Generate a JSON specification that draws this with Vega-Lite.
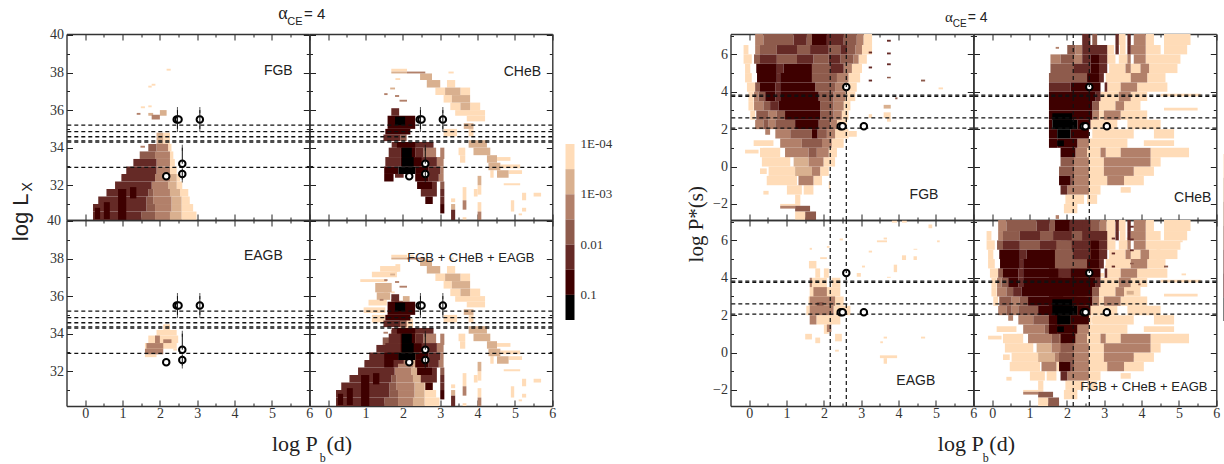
{"$schema":"https://vega.github.io/schema/vega-lite/v6.json","padding":{"left":9.5,"top":4,"right":0,"bottom":0},"columns":6,"spacing":0,"bounds":"flush","config":{"view":{"stroke":null},"axis":{"domainColor":"#333","domainWidth":1.4,"tickColor":"#222","tickWidth":1,"labelFont":"Liberation Serif","labelFontSize":14,"labelColor":"#333","grid":false,"zindex":1,"labelOverlap":false,"labelFlush":false},"axisX":{"labelPadding":6},"axisY":{"labelPadding":9},"text":{"font":"Liberation Sans","color":"#222"}},
"datasets":{
"one":[{"k":0}],
"hL":[{"y":35.2},{"y":34.85},{"y":34.58},{"y":34.36},{"y":34.3},{"y":32.95}],
"eL":[{"x":2.47,"lo":35,"hi":36},{"x":3.07,"lo":35,"hi":36},{"x":2.6,"lo":33.15,"hi":34},{"x":2.6,"lo":32.3,"hi":32.9}],
"cL":[{"x":2.47,"y":35},{"x":2.47,"y":36},{"x":3.07,"y":35},{"x":3.07,"y":36},{"x":2.6,"y":34},{"x":2.6,"y":32.3}],
"pL":[{"x":2.45,"y":35.5},{"x":2.5,"y":35.5},{"x":3.07,"y":35.5},{"x":2.6,"y":33.15},{"x":2.6,"y":32.6},{"x":2.17,"y":32.48}],
"hR":[{"y":3.75},{"y":3.82},{"y":2.6},{"y":2.05}],
"vR":[{"x":2.17},{"x":2.6}],
"pR":[{"x":2.6,"y":4.25},{"x":2.45,"y":2.15},{"x":2.5,"y":2.15},{"x":3.07,"y":2.15}],
"cb":[{"c":1,"lo":-4,"hi":-3.5,"t":"1E-04"},{"c":2,"lo":-3.5,"hi":-3,"t":""},{"c":3,"lo":-3,"hi":-2.5,"t":"1E-03"},{"c":4,"lo":-2.5,"hi":-2,"t":""},{"c":5,"lo":-2,"hi":-1.5,"t":"0.01"},{"c":6,"lo":-1.5,"hi":-1,"t":""},{"c":7,"lo":-1,"hi":-0.5,"t":"0.1"}],
"L":[
{"p":"a","x":0.21,"e":1.5,"y":30.15,"f":30.6,"c":5},{"p":"a","x":1.5,"e":1.87,"y":30.15,"f":30.6,"c":4},{"p":"a","x":1.87,"e":2.27,"y":30.15,"f":30.6,"c":3},{"p":"a","x":2.27,"e":2.58,"y":30.15,"f":30.6,"c":2},{"p":"a","x":2.58,"e":2.98,"y":30.15,"f":30.6,"c":1},
{"p":"a","x":0.21,"e":1.64,"y":30.6,"f":31,"c":5},{"p":"a","x":1.64,"e":1.87,"y":30.6,"f":31,"c":4},{"p":"a","x":1.87,"e":2.31,"y":30.6,"f":31,"c":3},{"p":"a","x":2.31,"e":2.58,"y":30.6,"f":31,"c":2},{"p":"a","x":2.58,"e":2.89,"y":30.6,"f":31,"c":1},
{"p":"a","x":0.35,"e":1.64,"y":31,"f":31.4,"c":5},{"p":"a","x":1.64,"e":1.82,"y":31,"f":31.4,"c":4},{"p":"a","x":1.82,"e":2.31,"y":31,"f":31.4,"c":3},{"p":"a","x":2.31,"e":2.58,"y":31,"f":31.4,"c":2},{"p":"a","x":2.58,"e":2.8,"y":31,"f":31.4,"c":1},
{"p":"a","x":0.57,"e":1.69,"y":31.4,"f":31.8,"c":5},{"p":"a","x":1.69,"e":1.82,"y":31.4,"f":31.8,"c":4},{"p":"a","x":1.82,"e":2.27,"y":31.4,"f":31.8,"c":3},{"p":"a","x":2.27,"e":2.54,"y":31.4,"f":31.8,"c":2},{"p":"a","x":2.54,"e":2.76,"y":31.4,"f":31.8,"c":1},
{"p":"a","x":0.8,"e":1.78,"y":31.8,"f":32.2,"c":5},{"p":"a","x":1.78,"e":2.22,"y":31.8,"f":32.2,"c":3},{"p":"a","x":2.22,"e":2.45,"y":31.8,"f":32.2,"c":2},{"p":"a","x":2.45,"e":2.6,"y":31.8,"f":32.2,"c":1},
{"p":"a","x":0.97,"e":1.87,"y":32.2,"f":32.6,"c":5},{"p":"a","x":1.87,"e":2.27,"y":32.2,"f":32.6,"c":3},{"p":"a","x":2.27,"e":2.45,"y":32.2,"f":32.6,"c":2},{"p":"a","x":2.45,"e":2.54,"y":32.2,"f":32.6,"c":1},
{"p":"a","x":1.1,"e":1.91,"y":32.6,"f":33,"c":5},{"p":"a","x":1.91,"e":2.27,"y":32.6,"f":33,"c":3},{"p":"a","x":2.27,"e":2.45,"y":32.6,"f":33,"c":1},
{"p":"a","x":1.29,"e":1.91,"y":33,"f":33.4,"c":5},{"p":"a","x":1.91,"e":2.27,"y":33,"f":33.4,"c":3},{"p":"a","x":2.27,"e":2.4,"y":33,"f":33.4,"c":1},
{"p":"a","x":1.46,"e":1.87,"y":33.4,"f":33.8,"c":4},{"p":"a","x":1.87,"e":2.27,"y":33.4,"f":33.8,"c":3},{"p":"a","x":2.27,"e":2.36,"y":33.4,"f":33.8,"c":1},
{"p":"a","x":1.69,"e":1.91,"y":33.8,"f":34.2,"c":4},{"p":"a","x":1.91,"e":2.22,"y":33.8,"f":34.2,"c":3},{"p":"a","x":2.22,"e":2.31,"y":33.8,"f":34.2,"c":1},
{"p":"a","x":1.91,"e":2.09,"y":34.2,"f":34.8,"c":2},{"p":"a","x":2.09,"e":2.27,"y":34.2,"f":34.8,"c":1},
{"p":"a","x":0.88,"e":1.1,"y":30.15,"f":31.8,"c":6},{"p":"a","x":1.2,"e":1.37,"y":31.3,"f":31.9,"c":6},{"p":"a","x":0.5,"e":0.66,"y":30.2,"f":31.1,"c":6},{"p":"a","x":0.26,"e":0.4,"y":30.2,"f":30.8,"c":6},
{"p":"a","x":1.78,"e":2,"y":35.5,"f":35.75,"c":3},{"p":"a","x":2,"e":2.18,"y":35.7,"f":36,"c":2},{"p":"a","x":1.69,"e":1.82,"y":35.7,"f":35.85,"c":2},{"p":"a","x":1.38,"e":1.48,"y":35.75,"f":35.85,"c":3},{"p":"a","x":1.69,"e":1.78,"y":36.15,"f":36.25,"c":1},{"p":"a","x":1.49,"e":1.6,"y":36.1,"f":36.2,"c":1},{"p":"a","x":1.69,"e":1.78,"y":37.2,"f":37.3,"c":1},{"p":"a","x":1.78,"e":1.88,"y":37.3,"f":37.4,"c":1},{"p":"a","x":2.18,"e":2.29,"y":38.1,"f":38.2,"c":1},{"p":"a","x":1.48,"e":1.6,"y":34,"f":34.1,"c":3},
{"p":"b","x":1.69,"e":1.9,"y":35.7,"f":36.1,"c":5},{"p":"b","x":1.59,"e":2.33,"y":35,"f":35.7,"c":6},{"p":"b","x":1.79,"e":2.06,"y":35.2,"f":35.65,"c":7},{"p":"b","x":1.53,"e":2.2,"y":34.7,"f":35,"c":6},{"p":"b","x":1.48,"e":1.93,"y":34.35,"f":34.7,"c":5},{"p":"b","x":1.93,"e":2.1,"y":34.35,"f":34.7,"c":4},
{"p":"b","x":1.7,"e":2.82,"y":34,"f":34.3,"c":5},{"p":"b","x":1.84,"e":2.33,"y":34,"f":34.3,"c":6},
{"p":"b","x":1.62,"e":1.93,"y":33.5,"f":34,"c":5},{"p":"b","x":1.93,"e":2.33,"y":33.5,"f":34,"c":6},{"p":"b","x":1.97,"e":2.24,"y":33.5,"f":34,"c":7},{"p":"b","x":2.33,"e":2.55,"y":33.5,"f":34,"c":5},{"p":"b","x":2.55,"e":2.89,"y":33.5,"f":34,"c":3},
{"p":"b","x":1.53,"e":1.93,"y":33,"f":33.5,"c":5},{"p":"b","x":1.93,"e":2.51,"y":33,"f":33.5,"c":6},{"p":"b","x":1.97,"e":2.29,"y":33,"f":33.5,"c":7},{"p":"b","x":2.51,"e":2.91,"y":33,"f":33.5,"c":5},{"p":"b","x":2.91,"e":3.09,"y":33,"f":33.5,"c":3},
{"p":"b","x":1.5,"e":1.88,"y":32.6,"f":33,"c":6},{"p":"b","x":1.88,"e":2.33,"y":32.6,"f":33,"c":7},{"p":"b","x":2.33,"e":2.69,"y":32.6,"f":33,"c":6},{"p":"b","x":2.69,"e":3,"y":32.6,"f":33,"c":5},{"p":"b","x":3,"e":3.09,"y":32.6,"f":33,"c":3},
{"p":"b","x":1.5,"e":1.75,"y":32.2,"f":32.6,"c":6},{"p":"b","x":1.79,"e":2.02,"y":32.4,"f":32.6,"c":5},{"p":"b","x":2.33,"e":2.69,"y":32.2,"f":32.6,"c":6},{"p":"b","x":2.69,"e":2.96,"y":32.2,"f":32.6,"c":5},{"p":"b","x":2.96,"e":3.09,"y":32.2,"f":32.6,"c":3},
{"p":"b","x":2.38,"e":2.78,"y":31.8,"f":32.2,"c":6},{"p":"b","x":2.78,"e":2.91,"y":31.8,"f":32.2,"c":5},{"p":"b","x":3,"e":3.11,"y":31.8,"f":32.2,"c":4},
{"p":"b","x":2.48,"e":2.91,"y":31.4,"f":31.8,"c":5},{"p":"b","x":3,"e":3.11,"y":31.4,"f":31.8,"c":5},{"p":"b","x":2.6,"e":2.8,"y":31,"f":31.4,"c":6},{"p":"b","x":3,"e":3.11,"y":31,"f":31.4,"c":5},{"p":"b","x":3,"e":3.11,"y":30.5,"f":31,"c":6},
{"p":"b","x":3.29,"e":3.4,"y":30.15,"f":30.7,"c":5},{"p":"b","x":3.29,"e":3.4,"y":30.7,"f":31,"c":2},{"p":"b","x":3.29,"e":3.4,"y":31.1,"f":31.3,"c":1},{"p":"b","x":3.6,"e":3.7,"y":30.7,"f":31.2,"c":3},{"p":"b","x":3.6,"e":3.7,"y":31.2,"f":31.9,"c":1},{"p":"b","x":3.6,"e":3.7,"y":30.15,"f":30.3,"c":1},{"p":"b","x":3.9,"e":4,"y":31.4,"f":31.8,"c":1},
{"p":"b","x":4,"e":4.1,"y":30.15,"f":30.6,"c":3},{"p":"b","x":4,"e":4.1,"y":30.6,"f":31.1,"c":1},{"p":"b","x":4,"e":4.1,"y":31.5,"f":32,"c":1},{"p":"b","x":4,"e":4.1,"y":32,"f":32.5,"c":2},{"p":"b","x":4.89,"e":4.98,"y":30.6,"f":31.2,"c":1},{"p":"b","x":5.19,"e":5.3,"y":30.6,"f":30.8,"c":1},{"p":"b","x":5.19,"e":5.3,"y":31.2,"f":31.6,"c":1},{"p":"b","x":5.5,"e":5.7,"y":31.4,"f":31.6,"c":1},{"p":"b","x":5.1,"e":5.19,"y":30.4,"f":30.5,"c":1},
{"p":"b","x":1.69,"e":2.11,"y":38.05,"f":38.2,"c":1},{"p":"b","x":1.69,"e":2.11,"y":37.95,"f":38.05,"c":2},{"p":"b","x":2.11,"e":2.6,"y":37.95,"f":38.05,"c":3},{"p":"b","x":2.46,"e":2.78,"y":37.6,"f":37.95,"c":2},{"p":"b","x":2.64,"e":3,"y":37.2,"f":37.6,"c":2},{"p":"b","x":3.18,"e":3.4,"y":37.2,"f":37.6,"c":1},
{"p":"b","x":2.87,"e":3.13,"y":36.8,"f":37.2,"c":1},{"p":"b","x":3.13,"e":3.54,"y":36.8,"f":37.2,"c":2},{"p":"b","x":3.54,"e":3.8,"y":36.8,"f":37.2,"c":1},{"p":"b","x":3.09,"e":3.31,"y":36.4,"f":36.8,"c":1},{"p":"b","x":3.31,"e":3.8,"y":36.4,"f":36.8,"c":2},{"p":"b","x":3.27,"e":3.54,"y":36,"f":36.4,"c":1},{"p":"b","x":3.54,"e":3.8,"y":36,"f":36.4,"c":2},{"p":"b","x":3.8,"e":4.07,"y":36,"f":36.4,"c":1},{"p":"b","x":3.4,"e":4.2,"y":35.7,"f":36,"c":1},{"p":"b","x":3.71,"e":4.2,"y":35.4,"f":35.7,"c":1},{"p":"b","x":3.63,"e":3.89,"y":35,"f":35.3,"c":2},{"p":"b","x":3.09,"e":3.45,"y":34.6,"f":35,"c":1},{"p":"b","x":3.76,"e":3.89,"y":34.6,"f":35,"c":1},{"p":"b","x":3.76,"e":4.25,"y":34,"f":34.4,"c":2},{"p":"b","x":3.49,"e":3.67,"y":33.6,"f":34,"c":1},{"p":"b","x":3.89,"e":4.34,"y":33.6,"f":34,"c":2},{"p":"b","x":3,"e":3.11,"y":33.4,"f":34,"c":3},{"p":"b","x":3.53,"e":3.67,"y":33.2,"f":33.6,"c":1},{"p":"b","x":4.25,"e":4.52,"y":33.2,"f":33.6,"c":2},{"p":"b","x":4.52,"e":4.88,"y":33.3,"f":33.5,"c":1},{"p":"b","x":4.29,"e":4.61,"y":32.8,"f":33.2,"c":2},{"p":"b","x":4.61,"e":5.14,"y":32.9,"f":33.1,"c":1},{"p":"b","x":4.34,"e":4.43,"y":32.4,"f":32.8,"c":1},{"p":"b","x":4.52,"e":4.83,"y":32.4,"f":32.8,"c":2},{"p":"b","x":4.83,"e":5.19,"y":32.6,"f":32.8,"c":1},{"p":"b","x":4.7,"e":5.14,"y":32,"f":32.1,"c":1},
{"p":"b","x":1.79,"e":1.9,"y":36.7,"f":36.8,"c":3},{"p":"b","x":1.91,"e":2.11,"y":36.45,"f":36.55,"c":3},{"p":"b","x":1.66,"e":1.79,"y":37.1,"f":37.2,"c":2},{"p":"b","x":1.8,"e":1.93,"y":37.6,"f":37.7,"c":1},{"p":"b","x":1.5,"e":1.59,"y":36.8,"f":36.9,"c":3},{"p":"b","x":3.22,"e":3.36,"y":37.95,"f":38.05,"c":1},
{"p":"c","x":2.09,"e":2.27,"y":34.2,"f":34.5,"c":1},{"p":"c","x":1.91,"e":2.45,"y":33.9,"f":34.2,"c":1},{"p":"c","x":1.69,"e":2.49,"y":33.5,"f":33.9,"c":1},{"p":"c","x":1.87,"e":2,"y":33.5,"f":33.9,"c":3},{"p":"c","x":2.09,"e":2.31,"y":33.5,"f":33.7,"c":3},{"p":"c","x":1.6,"e":2.45,"y":33.2,"f":33.5,"c":1},{"p":"c","x":1.64,"e":2.09,"y":33.2,"f":33.5,"c":3},{"p":"c","x":1.6,"e":2.09,"y":32.9,"f":33.2,"c":3},{"p":"c","x":1.6,"e":1.91,"y":32.75,"f":32.9,"c":1},{"p":"c","x":2.36,"e":2.46,"y":33.1,"f":33.2,"c":1},
{"p":"d","x":1.39,"e":1.93,"y":37.3,"f":37.6,"c":1},{"p":"d","x":1.17,"e":1.84,"y":37,"f":37.3,"c":1},{"p":"d","x":0.86,"e":1.57,"y":36.75,"f":36.9,"c":1},{"p":"d","x":1.26,"e":1.7,"y":36.2,"f":36.7,"c":2},{"p":"d","x":1.3,"e":1.66,"y":35.8,"f":36.2,"c":2},{"p":"d","x":1.08,"e":1.57,"y":35.5,"f":35.8,"c":1},{"p":"d","x":0.95,"e":1.53,"y":35.1,"f":35.4,"c":1},{"p":"d","x":1.17,"e":1.53,"y":34.6,"f":35,"c":1}
],
"R":[
{"p":"e","x":0.16,"e":0.38,"y":6.5,"f":7.09,"c":3},{"p":"e","x":0.38,"e":1.19,"y":6.5,"f":7.09,"c":4},{"p":"e","x":1.19,"e":1.54,"y":6.5,"f":7.09,"c":5},{"p":"e","x":1.54,"e":1.68,"y":6.5,"f":7.09,"c":4},{"p":"e","x":1.68,"e":2.08,"y":6.5,"f":7.09,"c":6},{"p":"e","x":2.08,"e":2.53,"y":6.5,"f":7.09,"c":5},{"p":"e","x":2.53,"e":2.88,"y":6.5,"f":7.09,"c":4},{"p":"e","x":2.88,"e":3.06,"y":6.5,"f":7.09,"c":3},{"p":"e","x":3.06,"e":3.29,"y":6.5,"f":7.09,"c":1},
{"p":"e","x":-0.15,"e":-0.02,"y":6,"f":6.5,"c":1},{"p":"e","x":0.16,"e":0.29,"y":6,"f":6.5,"c":3},{"p":"e","x":0.29,"e":0.74,"y":6,"f":6.5,"c":4},{"p":"e","x":0.74,"e":1.28,"y":6,"f":6.5,"c":5},{"p":"e","x":1.28,"e":1.63,"y":6,"f":6.5,"c":4},{"p":"e","x":1.63,"e":2.13,"y":6,"f":6.5,"c":5},{"p":"e","x":2.13,"e":2.44,"y":6,"f":6.5,"c":4},{"p":"e","x":2.44,"e":2.62,"y":6,"f":6.5,"c":5},{"p":"e","x":2.62,"e":2.84,"y":6,"f":6.5,"c":4},{"p":"e","x":2.84,"e":3.02,"y":6,"f":6.5,"c":3},{"p":"e","x":3.02,"e":3.29,"y":6,"f":6.5,"c":1},
{"p":"e","x":-0.15,"e":0.07,"y":5.5,"f":6,"c":1},{"p":"e","x":0.13,"e":0.29,"y":5.5,"f":6,"c":4},{"p":"e","x":0.29,"e":0.74,"y":5.5,"f":6,"c":5},{"p":"e","x":0.74,"e":1.28,"y":5.5,"f":6,"c":4},{"p":"e","x":1.28,"e":1.72,"y":5.5,"f":6,"c":5},{"p":"e","x":1.72,"e":2.13,"y":5.5,"f":6,"c":4},{"p":"e","x":2.13,"e":2.44,"y":5.5,"f":6,"c":5},{"p":"e","x":2.44,"e":2.79,"y":5.5,"f":6,"c":4},{"p":"e","x":2.79,"e":2.93,"y":5.5,"f":6,"c":3},{"p":"e","x":2.93,"e":3.15,"y":5.5,"f":6,"c":1},
{"p":"e","x":-0.11,"e":0.03,"y":5,"f":5.5,"c":1},{"p":"e","x":0.19,"e":0.74,"y":5,"f":5.5,"c":6},{"p":"e","x":0.74,"e":0.92,"y":5,"f":5.5,"c":5},{"p":"e","x":0.92,"e":1.68,"y":5,"f":5.5,"c":6},{"p":"e","x":1.68,"e":2.17,"y":5,"f":5.5,"c":4},{"p":"e","x":2.17,"e":2.53,"y":5,"f":5.5,"c":5},{"p":"e","x":2.53,"e":2.75,"y":5,"f":5.5,"c":3},{"p":"e","x":2.75,"e":3.02,"y":5,"f":5.5,"c":1},
{"p":"e","x":-0.11,"e":0.07,"y":4.5,"f":5,"c":1},{"p":"e","x":0.21,"e":0.74,"y":4.5,"f":5,"c":6},{"p":"e","x":0.74,"e":0.83,"y":4.5,"f":5,"c":5},{"p":"e","x":0.83,"e":1.68,"y":4.5,"f":5,"c":6},{"p":"e","x":1.68,"e":2.35,"y":4.5,"f":5,"c":4},{"p":"e","x":2.35,"e":2.66,"y":4.5,"f":5,"c":3},{"p":"e","x":2.66,"e":2.97,"y":4.5,"f":5,"c":1},
{"p":"e","x":-0.06,"e":0.16,"y":4,"f":4.5,"c":1},{"p":"e","x":0.16,"e":0.29,"y":4,"f":4.5,"c":4},{"p":"e","x":0.29,"e":0.7,"y":4,"f":4.5,"c":6},{"p":"e","x":0.7,"e":0.83,"y":4,"f":4.5,"c":5},{"p":"e","x":0.83,"e":1.77,"y":4,"f":4.5,"c":6},{"p":"e","x":1.77,"e":2.3,"y":4,"f":4.5,"c":4},{"p":"e","x":2.3,"e":2.62,"y":4,"f":4.5,"c":3},{"p":"e","x":2.62,"e":2.88,"y":4,"f":4.5,"c":1},
{"p":"e","x":-0.02,"e":0.12,"y":3.5,"f":4,"c":1},{"p":"e","x":0.13,"e":0.25,"y":3.5,"f":4,"c":3},{"p":"e","x":0.25,"e":0.43,"y":3.5,"f":4,"c":4},{"p":"e","x":0.43,"e":0.7,"y":3.5,"f":4,"c":6},{"p":"e","x":0.7,"e":0.83,"y":3.5,"f":4,"c":5},{"p":"e","x":0.83,"e":1.86,"y":3.5,"f":4,"c":6},{"p":"e","x":1.86,"e":2.26,"y":3.5,"f":4,"c":4},{"p":"e","x":2.26,"e":2.57,"y":3.5,"f":4,"c":3},{"p":"e","x":2.57,"e":2.84,"y":3.5,"f":4,"c":1},
{"p":"e","x":-0.02,"e":0.12,"y":3,"f":3.5,"c":1},{"p":"e","x":0.13,"e":0.38,"y":3,"f":3.5,"c":3},{"p":"e","x":0.38,"e":0.56,"y":3,"f":3.5,"c":4},{"p":"e","x":0.56,"e":0.79,"y":3,"f":3.5,"c":5},{"p":"e","x":0.79,"e":1.9,"y":3,"f":3.5,"c":6},{"p":"e","x":1.9,"e":2.26,"y":3,"f":3.5,"c":4},{"p":"e","x":2.26,"e":2.53,"y":3,"f":3.5,"c":3},{"p":"e","x":2.53,"e":2.71,"y":3,"f":3.5,"c":1},
{"p":"e","x":0.03,"e":0.16,"y":2.5,"f":3,"c":1},{"p":"e","x":0.19,"e":0.52,"y":2.5,"f":3,"c":4},{"p":"e","x":0.52,"e":0.74,"y":2.5,"f":3,"c":3},{"p":"e","x":0.74,"e":0.96,"y":2.5,"f":3,"c":4},{"p":"e","x":0.96,"e":1.9,"y":2.5,"f":3,"c":6},{"p":"e","x":1.9,"e":2.26,"y":2.5,"f":3,"c":4},{"p":"e","x":2.26,"e":2.48,"y":2.5,"f":3,"c":3},{"p":"e","x":2.48,"e":2.66,"y":2.5,"f":3,"c":1},
{"p":"e","x":0.16,"e":0.38,"y":2,"f":2.5,"c":3},{"p":"e","x":0.38,"e":0.52,"y":2,"f":2.5,"c":4},{"p":"e","x":0.52,"e":0.7,"y":2,"f":2.5,"c":3},{"p":"e","x":0.7,"e":1.23,"y":2,"f":2.5,"c":4},{"p":"e","x":1.23,"e":1.86,"y":2,"f":2.5,"c":6},{"p":"e","x":1.86,"e":2.17,"y":2,"f":2.5,"c":4},{"p":"e","x":2.17,"e":2.35,"y":2,"f":2.5,"c":3},{"p":"e","x":2.35,"e":2.62,"y":2,"f":2.5,"c":1},
{"p":"e","x":0.43,"e":0.56,"y":1.7,"f":2,"c":3},{"p":"e","x":0.7,"e":1.1,"y":1.5,"f":2,"c":3},{"p":"e","x":1.1,"e":1.68,"y":1.5,"f":2,"c":4},{"p":"e","x":1.68,"e":1.83,"y":1.5,"f":2,"c":6},{"p":"e","x":1.83,"e":2.08,"y":1.5,"f":2,"c":4},{"p":"e","x":2.08,"e":2.3,"y":1.5,"f":2,"c":3},{"p":"e","x":2.3,"e":2.66,"y":1.5,"f":2,"c":1},{"p":"e","x":2.66,"e":2.88,"y":1.6,"f":1.9,"c":1},
{"p":"e","x":0.12,"e":0.65,"y":1.1,"f":1.4,"c":1},{"p":"e","x":0.83,"e":1.41,"y":1,"f":1.5,"c":3},{"p":"e","x":1.41,"e":1.95,"y":1,"f":1.5,"c":4},{"p":"e","x":1.95,"e":2.21,"y":1,"f":1.5,"c":3},{"p":"e","x":2.21,"e":2.53,"y":1,"f":1.5,"c":1},
{"p":"e","x":-0.11,"e":0.25,"y":0.7,"f":0.9,"c":1},{"p":"e","x":0.29,"e":0.83,"y":0.5,"f":1,"c":1},{"p":"e","x":0.96,"e":1.59,"y":0.5,"f":1,"c":3},{"p":"e","x":1.59,"e":1.81,"y":0.5,"f":1,"c":4},{"p":"e","x":1.81,"e":2.13,"y":0.5,"f":1,"c":3},{"p":"e","x":2.13,"e":2.35,"y":0.5,"f":1,"c":1},
{"p":"e","x":0.34,"e":1.1,"y":0,"f":0.5,"c":1},{"p":"e","x":1.19,"e":1.59,"y":0,"f":0.5,"c":2},{"p":"e","x":1.59,"e":1.99,"y":0,"f":0.5,"c":3},{"p":"e","x":1.99,"e":2.3,"y":0,"f":0.5,"c":1},
{"p":"e","x":0.29,"e":0.47,"y":-0.4,"f":-0.1,"c":1},{"p":"e","x":0.52,"e":1.23,"y":-0.5,"f":0,"c":1},{"p":"e","x":1.23,"e":1.68,"y":-0.5,"f":0,"c":2},{"p":"e","x":1.68,"e":1.9,"y":-0.5,"f":0,"c":3},{"p":"e","x":1.9,"e":2.13,"y":-0.5,"f":0,"c":1},
{"p":"e","x":0.47,"e":1.28,"y":-1,"f":-0.5,"c":1},{"p":"e","x":1.32,"e":1.72,"y":-1,"f":-0.5,"c":3},{"p":"e","x":1.72,"e":1.95,"y":-1,"f":-0.5,"c":1},{"p":"e","x":2.13,"e":2.17,"y":-1.2,"f":-0.8,"c":1},
{"p":"e","x":0.38,"e":0.52,"y":-1.5,"f":-1.3,"c":1},{"p":"e","x":1.01,"e":1.41,"y":-1.5,"f":-1,"c":1},{"p":"e","x":1.46,"e":1.72,"y":-1.5,"f":-1,"c":1},{"p":"e","x":1.23,"e":1.37,"y":-2,"f":-1.5,"c":1},{"p":"e","x":0.83,"e":1.37,"y":-2.1,"f":-2,"c":1},{"p":"e","x":0.83,"e":1.23,"y":-2.25,"f":-2.1,"c":3},{"p":"e","x":1.23,"e":1.63,"y":-2.4,"f":-2.1,"c":4},{"p":"e","x":1.23,"e":1.5,"y":-2.86,"f":-2.4,"c":1},{"p":"e","x":1.5,"e":1.79,"y":-2.86,"f":-2.4,"c":4},
{"p":"e","x":3.69,"e":3.79,"y":6.68,"f":6.78,"c":5},{"p":"e","x":3.69,"e":3.79,"y":6,"f":6.1,"c":5},{"p":"e","x":3.69,"e":3.79,"y":5.42,"f":5.52,"c":5},{"p":"e","x":3.69,"e":3.79,"y":4.72,"f":4.8,"c":4},{"p":"e","x":3.2,"e":3.29,"y":6.05,"f":6.15,"c":5},{"p":"e","x":3.2,"e":3.29,"y":5.25,"f":5.35,"c":5},{"p":"e","x":3.2,"e":3.29,"y":4.55,"f":4.65,"c":5},{"p":"e","x":4.6,"e":4.71,"y":4.55,"f":4.65,"c":4},{"p":"e","x":5.07,"e":5.19,"y":4.13,"f":4.23,"c":1},{"p":"e","x":3.6,"e":3.79,"y":3.1,"f":3.3,"c":2},{"p":"e","x":3.6,"e":3.79,"y":2.6,"f":2.9,"c":1},{"p":"e","x":3.69,"e":3.79,"y":2.4,"f":2.6,"c":1},{"p":"e","x":3.91,"e":3.97,"y":3.6,"f":3.7,"c":4},{"p":"e","x":3.2,"e":3.29,"y":2.6,"f":2.8,"c":1},
{"p":"f","x":2.41,"e":2.63,"y":6.5,"f":7.09,"c":5},{"p":"f","x":2.68,"e":2.81,"y":6.5,"f":7.09,"c":4},{"p":"f","x":3.3,"e":3.39,"y":6.5,"f":7.09,"c":5},{"p":"f","x":3.39,"e":3.57,"y":6.5,"f":7.09,"c":1},{"p":"f","x":3.62,"e":3.71,"y":6.5,"f":7.09,"c":5},{"p":"f","x":3.79,"e":4.11,"y":6.5,"f":7.09,"c":3},{"p":"f","x":4.11,"e":4.33,"y":6.5,"f":7.09,"c":1},{"p":"f","x":4.6,"e":5.31,"y":6.5,"f":7.09,"c":1},
{"p":"f","x":1.7,"e":1.79,"y":6.3,"f":6.4,"c":3},{"p":"f","x":2.01,"e":2.23,"y":6,"f":6.5,"c":4},{"p":"f","x":2.23,"e":2.41,"y":6,"f":6.5,"c":3},{"p":"f","x":2.41,"e":3.08,"y":6,"f":6.5,"c":5},{"p":"f","x":3.08,"e":3.26,"y":6,"f":6.5,"c":1},{"p":"f","x":3.3,"e":3.39,"y":6,"f":6.5,"c":5},{"p":"f","x":3.42,"e":3.57,"y":6,"f":6.5,"c":1},{"p":"f","x":3.62,"e":3.71,"y":6,"f":6.5,"c":5},{"p":"f","x":3.71,"e":4.11,"y":6,"f":6.5,"c":3},{"p":"f","x":4.11,"e":4.51,"y":6,"f":6.5,"c":1},{"p":"f","x":4.6,"e":5.22,"y":6,"f":6.5,"c":1},
{"p":"f","x":1.56,"e":1.83,"y":5.5,"f":6,"c":3},{"p":"f","x":1.83,"e":2.19,"y":5.5,"f":6,"c":4},{"p":"f","x":2.19,"e":2.41,"y":5.5,"f":6,"c":3},{"p":"f","x":2.41,"e":2.63,"y":5.5,"f":6,"c":5},{"p":"f","x":2.63,"e":2.86,"y":5.5,"f":6,"c":6},{"p":"f","x":2.86,"e":3.08,"y":5.5,"f":6,"c":5},{"p":"f","x":3.08,"e":3.3,"y":5.5,"f":6,"c":1},{"p":"f","x":3.39,"e":3.62,"y":5.5,"f":6,"c":1},{"p":"f","x":3.62,"e":3.71,"y":5.5,"f":6,"c":3},{"p":"f","x":3.79,"e":4.11,"y":5.5,"f":6,"c":3},{"p":"f","x":4.11,"e":5.04,"y":5.5,"f":6,"c":1},
{"p":"f","x":1.56,"e":2.19,"y":5,"f":5.5,"c":4},{"p":"f","x":2.19,"e":2.63,"y":5,"f":5.5,"c":5},{"p":"f","x":2.63,"e":2.86,"y":5,"f":5.5,"c":6},{"p":"f","x":2.86,"e":3.08,"y":5,"f":5.5,"c":5},{"p":"f","x":3.13,"e":3.57,"y":5,"f":5.5,"c":1},{"p":"f","x":3.57,"e":3.71,"y":5,"f":5.5,"c":3},{"p":"f","x":3.71,"e":3.97,"y":5,"f":5.5,"c":1},{"p":"f","x":3.97,"e":4.2,"y":5,"f":5.5,"c":3},{"p":"f","x":4.2,"e":4.96,"y":5,"f":5.5,"c":1},
{"p":"f","x":1.52,"e":2.54,"y":4.5,"f":5,"c":4},{"p":"f","x":2.54,"e":2.86,"y":4.5,"f":5,"c":6},{"p":"f","x":2.86,"e":2.99,"y":4.5,"f":5,"c":5},{"p":"f","x":3.04,"e":3.71,"y":4.5,"f":5,"c":1},{"p":"f","x":3.71,"e":4.15,"y":4.5,"f":5,"c":3},{"p":"f","x":4.15,"e":4.64,"y":4.5,"f":5,"c":1},
{"p":"f","x":1.52,"e":2.1,"y":4,"f":4.5,"c":5},{"p":"f","x":2.1,"e":2.9,"y":4,"f":4.5,"c":6},{"p":"f","x":3.01,"e":3.08,"y":4,"f":4.5,"c":5},{"p":"f","x":3.08,"e":3.44,"y":4,"f":4.5,"c":1},{"p":"f","x":3.44,"e":3.88,"y":4,"f":4.5,"c":3},{"p":"f","x":3.88,"e":4.69,"y":4,"f":4.5,"c":1},
{"p":"f","x":1.52,"e":2.77,"y":3.5,"f":4,"c":6},{"p":"f","x":2.77,"e":2.9,"y":3.5,"f":4,"c":5},{"p":"f","x":2.9,"e":3.39,"y":3.5,"f":4,"c":1},{"p":"f","x":3.39,"e":3.71,"y":3.5,"f":4,"c":3},{"p":"f","x":3.71,"e":4.15,"y":3.5,"f":4,"c":1},{"p":"f","x":4.51,"e":5.58,"y":3.75,"f":3.9,"c":1},
{"p":"f","x":1.52,"e":2.68,"y":3,"f":3.5,"c":6},{"p":"f","x":2.68,"e":2.86,"y":3,"f":3.5,"c":4},{"p":"f","x":2.86,"e":3.3,"y":3,"f":3.5,"c":1},{"p":"f","x":3.3,"e":3.53,"y":3,"f":3.5,"c":3},{"p":"f","x":3.53,"e":3.97,"y":3,"f":3.5,"c":1},{"p":"f","x":4.6,"e":5.5,"y":3,"f":3.15,"c":1},
{"p":"f","x":1.52,"e":2.68,"y":2.5,"f":3,"c":6},{"p":"f","x":1.61,"e":2.14,"y":2.5,"f":2.85,"c":7},{"p":"f","x":2.68,"e":2.86,"y":2.5,"f":3,"c":3},{"p":"f","x":2.86,"e":2.99,"y":2.5,"f":3,"c":1},{"p":"f","x":2.99,"e":3.44,"y":2.5,"f":3,"c":3},{"p":"f","x":3.44,"e":4.15,"y":2.5,"f":3,"c":1},
{"p":"f","x":1.52,"e":1.61,"y":2,"f":2.5,"c":6},{"p":"f","x":1.61,"e":2.28,"y":2,"f":2.5,"c":7},{"p":"f","x":2.28,"e":2.63,"y":2,"f":2.5,"c":6},{"p":"f","x":2.63,"e":3.35,"y":2,"f":2.5,"c":1},{"p":"f","x":3.62,"e":4.51,"y":2,"f":2.5,"c":1},
{"p":"f","x":1.52,"e":1.74,"y":1.5,"f":2,"c":6},{"p":"f","x":1.74,"e":2.1,"y":1.5,"f":2,"c":7},{"p":"f","x":2.1,"e":2.59,"y":1.5,"f":2,"c":6},{"p":"f","x":2.68,"e":3.79,"y":1.5,"f":2,"c":1},{"p":"f","x":4.33,"e":4.87,"y":1.5,"f":2,"c":1},
{"p":"f","x":1.52,"e":1.74,"y":1,"f":1.5,"c":6},{"p":"f","x":1.74,"e":1.92,"y":1.1,"f":1.4,"c":7},{"p":"f","x":1.74,"e":2.28,"y":1,"f":1.5,"c":6},{"p":"f","x":2.28,"e":2.59,"y":1,"f":1.5,"c":3},{"p":"f","x":2.59,"e":3.62,"y":1,"f":1.5,"c":1},{"p":"f","x":4.06,"e":4.87,"y":1.1,"f":1.4,"c":1},
{"p":"f","x":1.83,"e":2.23,"y":0.5,"f":1,"c":6},{"p":"f","x":2.23,"e":2.54,"y":0.5,"f":1,"c":3},{"p":"f","x":2.54,"e":2.9,"y":0.5,"f":1,"c":1},{"p":"f","x":2.9,"e":3.04,"y":0.5,"f":1,"c":3},{"p":"f","x":3.04,"e":3.44,"y":0.5,"f":1,"c":1},{"p":"f","x":3.44,"e":4.24,"y":0.5,"f":1,"c":3},{"p":"f","x":4.24,"e":5.27,"y":0.5,"f":1,"c":1},
{"p":"f","x":1.83,"e":2.19,"y":0,"f":0.5,"c":4},{"p":"f","x":2.19,"e":2.59,"y":0,"f":0.5,"c":3},{"p":"f","x":2.59,"e":2.99,"y":0,"f":0.5,"c":1},{"p":"f","x":2.99,"e":4.24,"y":0,"f":0.5,"c":3},{"p":"f","x":4.24,"e":4.51,"y":0,"f":0.5,"c":1},
{"p":"f","x":1.79,"e":2.19,"y":-0.5,"f":0,"c":4},{"p":"f","x":2.19,"e":2.59,"y":-0.5,"f":0,"c":3},{"p":"f","x":2.59,"e":2.99,"y":-0.5,"f":0,"c":1},{"p":"f","x":2.99,"e":3.79,"y":-0.5,"f":0,"c":3},{"p":"f","x":3.79,"e":4.33,"y":-0.5,"f":0,"c":1},
{"p":"f","x":1.79,"e":2.1,"y":-1,"f":-0.5,"c":6},{"p":"f","x":2.1,"e":2.19,"y":-1,"f":-0.5,"c":4},{"p":"f","x":2.19,"e":2.59,"y":-1,"f":-0.5,"c":3},{"p":"f","x":2.59,"e":3.08,"y":-1,"f":-0.5,"c":1},{"p":"f","x":3.08,"e":3.53,"y":-1,"f":-0.5,"c":3},{"p":"f","x":3.53,"e":4.06,"y":-1,"f":-0.5,"c":1},
{"p":"f","x":1.83,"e":2.01,"y":-1.5,"f":-1,"c":5},{"p":"f","x":2.01,"e":2.59,"y":-1.5,"f":-1,"c":3},{"p":"f","x":2.59,"e":2.9,"y":-1.5,"f":-1,"c":1},{"p":"f","x":3.44,"e":3.71,"y":-1.4,"f":-1.1,"c":1},{"p":"f","x":1.96,"e":2.46,"y":-2,"f":-1.5,"c":1},{"p":"f","x":2.54,"e":2.81,"y":-2,"f":-1.5,"c":1},{"p":"f","x":1.92,"e":2.28,"y":-2.5,"f":-2,"c":1},{"p":"f","x":1.7,"e":1.79,"y":-2.8,"f":-2.6,"c":3},
{"p":"g","x":1.77,"e":1.9,"y":4,"f":4.5,"c":1},{"p":"g","x":2,"e":2.13,"y":4,"f":4.5,"c":1},{"p":"g","x":1.6,"e":1.8,"y":4.5,"f":4.9,"c":1},{"p":"g","x":1.62,"e":1.68,"y":3.5,"f":4,"c":3},{"p":"g","x":1.68,"e":2.08,"y":3.5,"f":4,"c":1},{"p":"g","x":2.21,"e":2.44,"y":3.5,"f":4,"c":1},{"p":"g","x":1.62,"e":2.44,"y":3,"f":3.5,"c":1},{"p":"g","x":1.72,"e":2.08,"y":3,"f":3.5,"c":3},{"p":"g","x":1.59,"e":2.53,"y":2.5,"f":3,"c":1},{"p":"g","x":1.62,"e":2.3,"y":2.5,"f":3,"c":3},{"p":"g","x":1.53,"e":1.62,"y":2,"f":2.5,"c":1},{"p":"g","x":1.62,"e":2.26,"y":2,"f":2.5,"c":3},{"p":"g","x":2.26,"e":2.71,"y":2,"f":2.5,"c":1},{"p":"g","x":1.81,"e":1.99,"y":2.5,"f":2.7,"c":4},{"p":"g","x":1.62,"e":1.8,"y":1.5,"f":2,"c":3},{"p":"g","x":1.8,"e":2.44,"y":1.5,"f":2,"c":1},{"p":"g","x":2,"e":2.13,"y":1,"f":1.5,"c":1},{"p":"g","x":2.08,"e":2.2,"y":1.1,"f":1.5,"c":3},{"p":"g","x":1.5,"e":1.68,"y":0.7,"f":1,"c":1},{"p":"g","x":1.77,"e":1.9,"y":0.5,"f":0.8,"c":1},{"p":"g","x":2.3,"e":2.48,"y":0.6,"f":1,"c":1},{"p":"g","x":2.3,"e":2.4,"y":0.05,"f":0.15,"c":1},
{"p":"g","x":3.87,"e":3.96,"y":4.3,"f":4.7,"c":1},{"p":"g","x":3.69,"e":3.79,"y":4,"f":4.05,"c":1},{"p":"g","x":4.09,"e":4.2,"y":4.95,"f":5.2,"c":1},{"p":"g","x":4.4,"e":4.49,"y":4.95,"f":5.15,"c":1},{"p":"g","x":3.42,"e":3.69,"y":5.9,"f":6,"c":1},{"p":"g","x":3.6,"e":3.69,"y":6.05,"f":6.15,"c":1},{"p":"g","x":2.42,"e":2.51,"y":6,"f":6.1,"c":1},{"p":"g","x":3.2,"e":3.29,"y":5.35,"f":5.45,"c":1},{"p":"g","x":2.88,"e":2.99,"y":4.05,"f":4.25,"c":1},{"p":"g","x":3.02,"e":3.1,"y":4.55,"f":4.65,"c":1},{"p":"g","x":3.5,"e":3.96,"y":-0.3,"f":-0.15,"c":1},{"p":"g","x":3.6,"e":3.69,"y":-0.6,"f":-0.3,"c":1},{"p":"g","x":3.51,"e":3.58,"y":0.5,"f":0.6,"c":1},{"p":"g","x":3.6,"e":3.69,"y":0.75,"f":0.85,"c":1},{"p":"g","x":4.6,"e":4.71,"y":0.75,"f":0.85,"c":1},{"p":"g","x":1.62,"e":1.68,"y":5.5,"f":5.6,"c":1},{"p":"g","x":1.9,"e":2.08,"y":5,"f":5.1,"c":1},{"p":"g","x":2.08,"e":2.15,"y":5.6,"f":5.7,"c":1},{"p":"g","x":5.03,"e":5.1,"y":5.9,"f":6,"c":1},{"p":"g","x":4.4,"e":4.5,"y":5.5,"f":5.55,"c":1},{"p":"g","x":3.82,"e":3.96,"y":6.95,"f":7.05,"c":1},{"p":"g","x":4.09,"e":4.22,"y":6.95,"f":7.05,"c":1},{"p":"g","x":4.8,"e":4.9,"y":6.65,"f":6.85,"c":1}
]},
"concat":[
{"width":242.8,"height":186,"layer":[
{"data":{"name":"L"},"transform":[{"filter":"datum.p=='a'"}],"mark":"rect","encoding":{"x":{"field":"x","type":"quantitative","title":null,"scale":{"domain":[-0.5,6],"nice":false,"zero":false},"axis":{"orient":"bottom","labels":false,"values":[0,0.5,1,1.5,2,2.5,3,3.5,4,4.5,5,5.5,6],"tickSize":{"condition":{"test":"datum.value%1==0","value":-6},"value":-3}}},"x2":{"field":"e"},"y":{"field":"y","type":"quantitative","title":null,"scale":{"domain":[30.15,40.05],"nice":false,"zero":false},"axis":{"orient":"left","values":[30.15,31,32,33,34,35,36,37,38,39,40],"labelExpr":"datum.value==30.15?'40':datum.value%2==0?datum.label:''","tickSize":{"condition":{"test":"datum.value%2==0","value":-6},"value":-3}}},"y2":{"field":"f"},"color":{"field":"c","type":"ordinal","legend":null,"scale":{"domain":[1,2,3,4,5,6,7],"range":["#ffdcb8","#d9b08f","#b2806a","#8e5b4c","#652a26","#3e0000","#000000"]}},"order":{"field":"c","type":"ordinal"}}},
{"data":{"name":"hL"},"mark":{"type":"rule","strokeDash":[4,3],"strokeWidth":1.3,"color":"#111"},"encoding":{"y":{"field":"y","type":"quantitative","axis":null}}},
{"data":{"name":"pL"},"mark":{"type":"point","filled":true,"fill":"#fff","stroke":"#000","strokeWidth":2,"size":42,"opacity":1},"encoding":{"x":{"field":"x","type":"quantitative","axis":null},"y":{"field":"y","type":"quantitative","axis":null}}},
{"data":{"name":"eL"},"mark":{"type":"rule","color":"#111"},"encoding":{"x":{"field":"x","type":"quantitative","axis":null},"y":{"field":"lo","type":"quantitative","axis":null},"y2":{"field":"hi"}}},
{"data":{"name":"cL"},"mark":{"type":"tick","size":6,"thickness":1,"color":"#111"},"encoding":{"x":{"field":"x","type":"quantitative","axis":null},"y":{"field":"y","type":"quantitative","axis":null}}},
{"data":{"name":"one"},"mark":{"type":"text","text":"FGB","fontSize":14},"encoding":{"x":{"datum":5.17,"axis":null},"y":{"datum":38.09,"axis":null}}},
{"data":{"name":"one"},"mark":{"type":"text","text":"log L","fontSize":22,"angle":270,"align":"left","baseline":"alphabetic"},"encoding":{"x":{"datum":-1.53,"axis":null},"y":{"datum":29.02,"axis":null}}},
{"data":{"name":"one"},"mark":{"type":"text","text":"X","fontSize":14,"angle":270,"align":"left","baseline":"alphabetic"},"encoding":{"x":{"datum":-1.42,"axis":null},"y":{"datum":31.67,"axis":null}}},
{"data":{"name":"one"},"mark":{"type":"text","text":"α","font":"Liberation Serif","fontSize":18,"align":"left","baseline":"alphabetic"},"encoding":{"x":{"datum":5.17,"axis":null},"y":{"datum":40.85,"axis":null}}},
{"data":{"name":"one"},"mark":{"type":"text","text":"CE","fontSize":11,"align":"left","baseline":"alphabetic"},"encoding":{"x":{"datum":5.41,"axis":null},"y":{"datum":40.53,"axis":null}}},
{"data":{"name":"one"},"mark":{"type":"text","text":"= 4","fontSize":15,"align":"left","baseline":"alphabetic"},"encoding":{"x":{"datum":5.86,"axis":null},"y":{"datum":40.85,"axis":null}}},
{"mark":{"type":"point","opacity":0},"encoding":{"x":{"datum":0,"title":null,"axis":{"orient":"top","labels":false,"values":[0,0.5,1,1.5,2,2.5,3,3.5,4,4.5,5,5.5,6],"tickSize":{"condition":{"test":"datum.value%1==0","value":-6},"value":-3}}},"y":{"datum":38,"title":null,"axis":{"orient":"right","labels":false,"values":[31,32,33,34,35,36,37,38,39,40],"tickSize":{"condition":{"test":"datum.value%2==0","value":-6},"value":-3}}}}}
],"resolve":{"axis":{"x":"independent","y":"independent"}}},
{"width":242.8,"height":186,"layer":[
{"data":{"name":"L"},"transform":[{"filter":"datum.p=='b'"}],"mark":"rect","encoding":{"x":{"field":"x","type":"quantitative","title":null,"scale":{"domain":[-0.5,6],"nice":false,"zero":false},"axis":{"orient":"bottom","labels":false,"values":[0,0.5,1,1.5,2,2.5,3,3.5,4,4.5,5,5.5,6],"tickSize":{"condition":{"test":"datum.value%1==0","value":-6},"value":-3}}},"x2":{"field":"e"},"y":{"field":"y","type":"quantitative","title":null,"scale":{"domain":[30.15,40.05],"nice":false,"zero":false},"axis":{"orient":"left","labels":false,"values":[31,32,33,34,35,36,37,38,39,40],"tickSize":{"condition":{"test":"datum.value%2==0","value":-6},"value":-3}}},"y2":{"field":"f"},"color":{"field":"c","type":"ordinal","legend":null,"scale":{"domain":[1,2,3,4,5,6,7],"range":["#ffdcb8","#d9b08f","#b2806a","#8e5b4c","#652a26","#3e0000","#000000"]}},"order":{"field":"c","type":"ordinal"}}},
{"data":{"name":"hL"},"mark":{"type":"rule","strokeDash":[4,3],"strokeWidth":1.3,"color":"#111"},"encoding":{"y":{"field":"y","type":"quantitative","axis":null}}},
{"data":{"name":"pL"},"mark":{"type":"point","filled":true,"fill":"#fff","stroke":"#000","strokeWidth":2,"size":42,"opacity":1},"encoding":{"x":{"field":"x","type":"quantitative","axis":null},"y":{"field":"y","type":"quantitative","axis":null}}},
{"data":{"name":"eL"},"mark":{"type":"rule","color":"#111"},"encoding":{"x":{"field":"x","type":"quantitative","axis":null},"y":{"field":"lo","type":"quantitative","axis":null},"y2":{"field":"hi"}}},
{"data":{"name":"cL"},"mark":{"type":"tick","size":6,"thickness":1,"color":"#111"},"encoding":{"x":{"field":"x","type":"quantitative","axis":null},"y":{"field":"y","type":"quantitative","axis":null}}},
{"data":{"name":"one"},"mark":{"type":"text","text":"CHeB","fontSize":14},"encoding":{"x":{"datum":5.2,"axis":null},"y":{"datum":38.04,"axis":null}}},
{"mark":{"type":"point","opacity":0},"encoding":{"x":{"datum":0,"title":null,"axis":{"orient":"top","labels":false,"values":[0,0.5,1,1.5,2,2.5,3,3.5,4,4.5,5,5.5,6],"tickSize":{"condition":{"test":"datum.value%1==0","value":-6},"value":-3}}},"y":{"datum":38,"title":null,"axis":{"orient":"right","labels":false,"values":[31,32,33,34,35,36,37,38,39,40],"tickSize":{"condition":{"test":"datum.value%2==0","value":-6},"value":-3}}}}}
],"resolve":{"axis":{"x":"independent","y":"independent"}}},
{"width":178,"height":186,"data":{"name":"cb"},"transform":[{"filter":"datum.c<=3"}],"layer":[
{"mark":"rect","encoding":{"x":{"datum":13,"axis":null,"scale":{"domain":[0,178],"nice":false,"zero":false}},"x2":{"datum":22},"y":{"field":"lo","type":"quantitative","axis":null,"scale":{"domain":[-6.188,-2.489],"reverse":true,"nice":false,"zero":false}},"y2":{"field":"hi"},"color":{"field":"c","type":"ordinal","legend":null,"scale":{"domain":[1,2,3,4,5,6,7],"range":["#ffdcb8","#d9b08f","#b2806a","#8e5b4c","#652a26","#3e0000","#000000"]}}}},
{"mark":{"type":"text","font":"Liberation Serif","fontSize":13,"align":"left","color":"#333"},"encoding":{"x":{"datum":28},"y":{"field":"lo","type":"quantitative","axis":null},"text":{"field":"t"}}}
]},
{"width":242.8,"height":186,"layer":[
{"data":{"name":"R"},"transform":[{"filter":"datum.p=='e'"}],"mark":"rect","encoding":{"x":{"field":"x","type":"quantitative","title":null,"scale":{"domain":[-0.5,6],"nice":false,"zero":false},"axis":{"orient":"bottom","labels":false,"values":[0,0.5,1,1.5,2,2.5,3,3.5,4,4.5,5,5.5,6],"tickSize":{"condition":{"test":"datum.value%1==0","value":-6},"value":-3}}},"x2":{"field":"e"},"y":{"field":"y","type":"quantitative","title":null,"scale":{"domain":[-2.86,7.09],"nice":false,"zero":false},"axis":{"orient":"left","values":[-2,-1,0,1,2,3,4,5,6,7],"labelExpr":"datum.value%2==0?datum.label:''","tickSize":{"condition":{"test":"datum.value%2==0","value":-6},"value":-3}}},"y2":{"field":"f"},"color":{"field":"c","type":"ordinal","legend":null,"scale":{"domain":[1,2,3,4,5,6,7],"range":["#ffdcb8","#d9b08f","#b2806a","#8e5b4c","#652a26","#3e0000","#000000"]}},"order":{"field":"c","type":"ordinal"}}},
{"data":{"name":"hR"},"mark":{"type":"rule","strokeDash":[4,3],"strokeWidth":1.3,"color":"#111"},"encoding":{"y":{"field":"y","type":"quantitative","axis":null}}},
{"data":{"name":"pR"},"mark":{"type":"point","filled":true,"fill":"#fff","stroke":"#000","strokeWidth":2,"size":42,"opacity":1},"encoding":{"x":{"field":"x","type":"quantitative","axis":null},"y":{"field":"y","type":"quantitative","axis":null}}},
{"data":{"name":"vR"},"mark":{"type":"rule","strokeDash":[4,3],"strokeWidth":1.2,"color":"#111"},"encoding":{"x":{"field":"x","type":"quantitative","axis":null}}},
{"data":{"name":"one"},"mark":{"type":"text","text":"FGB","fontSize":14},"encoding":{"x":{"datum":4.68,"axis":null},"y":{"datum":-1.51,"axis":null}}},
{"data":{"name":"one"},"mark":{"type":"text","text":"log P*(s)","font":"Liberation Serif","fontSize":21,"angle":270,"align":"left","baseline":"alphabetic"},"encoding":{"x":{"datum":-1.23,"axis":null},"y":{"datum":-5.13,"axis":null}}},
{"data":{"name":"one"},"mark":{"type":"text","text":"α","font":"Liberation Serif","fontSize":15,"align":"left","baseline":"alphabetic"},"encoding":{"x":{"datum":5.24,"axis":null},"y":{"datum":7.74,"axis":null}}},
{"data":{"name":"one"},"mark":{"type":"text","text":"CE","fontSize":10,"align":"left","baseline":"alphabetic"},"encoding":{"x":{"datum":5.45,"axis":null},"y":{"datum":7.47,"axis":null}}},
{"data":{"name":"one"},"mark":{"type":"text","text":"= 4","fontSize":14,"align":"left","baseline":"alphabetic"},"encoding":{"x":{"datum":5.85,"axis":null},"y":{"datum":7.74,"axis":null}}},
{"mark":{"type":"point","opacity":0},"encoding":{"x":{"datum":0,"title":null,"axis":{"orient":"top","labels":false,"values":[0,0.5,1,1.5,2,2.5,3,3.5,4,4.5,5,5.5,6],"tickSize":{"condition":{"test":"datum.value%1==0","value":-6},"value":-3}}},"y":{"datum":4,"title":null,"axis":{"orient":"right","labels":false,"values":[-2,-1,0,1,2,3,4,5,6,7],"tickSize":{"condition":{"test":"datum.value%2==0","value":-6},"value":-3}}}}}
],"resolve":{"axis":{"x":"independent","y":"independent"}}},
{"width":242.8,"height":186,"layer":[
{"data":{"name":"R"},"transform":[{"filter":"datum.p=='f'"}],"mark":"rect","encoding":{"x":{"field":"x","type":"quantitative","title":null,"scale":{"domain":[-0.5,6],"nice":false,"zero":false},"axis":{"orient":"bottom","labels":false,"values":[0,0.5,1,1.5,2,2.5,3,3.5,4,4.5,5,5.5,6],"tickSize":{"condition":{"test":"datum.value%1==0","value":-6},"value":-3}}},"x2":{"field":"e"},"y":{"field":"y","type":"quantitative","title":null,"scale":{"domain":[-2.86,7.09],"nice":false,"zero":false},"axis":{"orient":"left","labels":false,"values":[-2,-1,0,1,2,3,4,5,6,7],"tickSize":{"condition":{"test":"datum.value%2==0","value":-6},"value":-3}}},"y2":{"field":"f"},"color":{"field":"c","type":"ordinal","legend":null,"scale":{"domain":[1,2,3,4,5,6,7],"range":["#ffdcb8","#d9b08f","#b2806a","#8e5b4c","#652a26","#3e0000","#000000"]}},"order":{"field":"c","type":"ordinal"}}},
{"data":{"name":"hR"},"mark":{"type":"rule","strokeDash":[4,3],"strokeWidth":1.3,"color":"#111"},"encoding":{"y":{"field":"y","type":"quantitative","axis":null}}},
{"data":{"name":"pR"},"mark":{"type":"point","filled":true,"fill":"#fff","stroke":"#000","strokeWidth":2,"size":42,"opacity":1},"encoding":{"x":{"field":"x","type":"quantitative","axis":null},"y":{"field":"y","type":"quantitative","axis":null}}},
{"data":{"name":"vR"},"mark":{"type":"rule","strokeDash":[4,3],"strokeWidth":1.2,"color":"#111"},"encoding":{"x":{"field":"x","type":"quantitative","axis":null}}},
{"data":{"name":"one"},"mark":{"type":"text","text":"CHeB","fontSize":14},"encoding":{"x":{"datum":5.37,"axis":null},"y":{"datum":-1.67,"axis":null}}},
{"mark":{"type":"point","opacity":0},"encoding":{"x":{"datum":0,"title":null,"axis":{"orient":"top","labels":false,"values":[0,0.5,1,1.5,2,2.5,3,3.5,4,4.5,5,5.5,6],"tickSize":{"condition":{"test":"datum.value%1==0","value":-6},"value":-3}}},"y":{"datum":4,"title":null,"axis":{"orient":"right","labels":false,"values":[-2,-1,0,1,2,3,4,5,6,7],"tickSize":{"condition":{"test":"datum.value%2==0","value":-6},"value":-3}}}}}
],"resolve":{"axis":{"x":"independent","y":"independent"}}},
{"width":8,"height":186,"data":{"name":"cb"},"transform":[{"filter":"datum.c<=3"}],"mark":"rect","encoding":{"x":{"datum":7,"axis":null,"scale":{"domain":[0,8],"nice":false,"zero":false}},"x2":{"datum":8},"y":{"field":"lo","type":"quantitative","axis":null,"scale":{"domain":[-6.515,-2.617],"reverse":true,"nice":false,"zero":false}},"y2":{"field":"hi"},"color":{"field":"c","type":"ordinal","legend":null,"scale":{"domain":[1,2,3,4,5,6,7],"range":["#ffdcb8","#d9b08f","#b2806a","#8e5b4c","#652a26","#3e0000","#000000"]}}}},
{"width":242.8,"height":186,"layer":[
{"data":{"name":"L"},"transform":[{"filter":"datum.p=='c'"}],"mark":"rect","encoding":{"x":{"field":"x","type":"quantitative","title":null,"scale":{"domain":[-0.5,6],"nice":false,"zero":false},"axis":{"orient":"bottom","values":[0,0.5,1,1.5,2,2.5,3,3.5,4,4.5,5,5.5,6],"labelExpr":"datum.value%1==0?''+datum.value:''","tickSize":{"condition":{"test":"datum.value%1==0","value":-6},"value":-3}}},"x2":{"field":"e"},"y":{"field":"y","type":"quantitative","title":null,"scale":{"domain":[30.15,40.05],"nice":false,"zero":false},"axis":{"orient":"left","values":[31,32,33,34,35,36,37,38,39,40],"labelExpr":"datum.value%2==0&&datum.value<40?datum.label:''","tickSize":{"condition":{"test":"datum.value%2==0","value":-6},"value":-3}}},"y2":{"field":"f"},"color":{"field":"c","type":"ordinal","legend":null,"scale":{"domain":[1,2,3,4,5,6,7],"range":["#ffdcb8","#d9b08f","#b2806a","#8e5b4c","#652a26","#3e0000","#000000"]}},"order":{"field":"c","type":"ordinal"}}},
{"data":{"name":"hL"},"mark":{"type":"rule","strokeDash":[4,3],"strokeWidth":1.3,"color":"#111"},"encoding":{"y":{"field":"y","type":"quantitative","axis":null}}},
{"data":{"name":"pL"},"mark":{"type":"point","filled":true,"fill":"#fff","stroke":"#000","strokeWidth":2,"size":42,"opacity":1},"encoding":{"x":{"field":"x","type":"quantitative","axis":null},"y":{"field":"y","type":"quantitative","axis":null}}},
{"data":{"name":"eL"},"mark":{"type":"rule","color":"#111"},"encoding":{"x":{"field":"x","type":"quantitative","axis":null},"y":{"field":"lo","type":"quantitative","axis":null},"y2":{"field":"hi"}}},
{"data":{"name":"cL"},"mark":{"type":"tick","size":6,"thickness":1,"color":"#111"},"encoding":{"x":{"field":"x","type":"quantitative","axis":null},"y":{"field":"y","type":"quantitative","axis":null}}},
{"data":{"name":"one"},"mark":{"type":"text","text":"EAGB","fontSize":14},"encoding":{"x":{"datum":4.77,"axis":null},"y":{"datum":38.14,"axis":null}}},
{"data":{"name":"one"},"mark":{"type":"text","text":"log P","font":"Liberation Serif","fontSize":22,"align":"left","baseline":"alphabetic"},"encoding":{"x":{"datum":5,"axis":null},"y":{"datum":27.74,"axis":null}}},
{"data":{"name":"one"},"mark":{"type":"text","text":"b","font":"Liberation Serif","fontSize":12,"align":"left","baseline":"alphabetic"},"encoding":{"x":{"datum":6.28,"axis":null},"y":{"datum":27.16,"axis":null}}},
{"data":{"name":"one"},"mark":{"type":"text","text":"(d)","font":"Liberation Serif","fontSize":22,"align":"left","baseline":"alphabetic"},"encoding":{"x":{"datum":6.46,"axis":null},"y":{"datum":27.74,"axis":null}}},
{"mark":{"type":"point","opacity":0},"encoding":{"x":{"datum":0,"title":null,"axis":{"orient":"top","labels":false,"values":[0,0.5,1,1.5,2,2.5,3,3.5,4,4.5,5,5.5,6],"tickSize":{"condition":{"test":"datum.value%1==0","value":-6},"value":-3}}},"y":{"datum":38,"title":null,"axis":{"orient":"right","labels":false,"values":[31,32,33,34,35,36,37,38,39,40],"tickSize":{"condition":{"test":"datum.value%2==0","value":-6},"value":-3}}}}}
],"resolve":{"axis":{"x":"independent","y":"independent"}}},
{"width":242.8,"height":186,"layer":[
{"data":{"name":"L"},"mark":"rect","encoding":{"x":{"field":"x","type":"quantitative","title":null,"scale":{"domain":[-0.5,6],"nice":false,"zero":false},"axis":{"orient":"bottom","values":[0,0.5,1,1.5,2,2.5,3,3.5,4,4.5,5,5.5,6],"labelExpr":"datum.value%1==0?''+datum.value:''","tickSize":{"condition":{"test":"datum.value%1==0","value":-6},"value":-3}}},"x2":{"field":"e"},"y":{"field":"y","type":"quantitative","title":null,"scale":{"domain":[30.15,40.05],"nice":false,"zero":false},"axis":{"orient":"left","labels":false,"values":[31,32,33,34,35,36,37,38,39,40],"tickSize":{"condition":{"test":"datum.value%2==0","value":-6},"value":-3}}},"y2":{"field":"f"},"color":{"field":"c","type":"ordinal","legend":null,"scale":{"domain":[1,2,3,4,5,6,7],"range":["#ffdcb8","#d9b08f","#b2806a","#8e5b4c","#652a26","#3e0000","#000000"]}},"order":{"field":"c","type":"ordinal"}}},
{"data":{"name":"hL"},"mark":{"type":"rule","strokeDash":[4,3],"strokeWidth":1.3,"color":"#111"},"encoding":{"y":{"field":"y","type":"quantitative","axis":null}}},
{"data":{"name":"pL"},"mark":{"type":"point","filled":true,"fill":"#fff","stroke":"#000","strokeWidth":2,"size":42,"opacity":1},"encoding":{"x":{"field":"x","type":"quantitative","axis":null},"y":{"field":"y","type":"quantitative","axis":null}}},
{"data":{"name":"eL"},"mark":{"type":"rule","color":"#111"},"encoding":{"x":{"field":"x","type":"quantitative","axis":null},"y":{"field":"lo","type":"quantitative","axis":null},"y2":{"field":"hi"}}},
{"data":{"name":"cL"},"mark":{"type":"tick","size":6,"thickness":1,"color":"#111"},"encoding":{"x":{"field":"x","type":"quantitative","axis":null},"y":{"field":"y","type":"quantitative","axis":null}}},
{"data":{"name":"one"},"mark":{"type":"text","text":"FGB + CHeB + EAGB","fontSize":13},"encoding":{"x":{"datum":3.82,"axis":null},"y":{"datum":38.04,"axis":null}}},
{"mark":{"type":"point","opacity":0},"encoding":{"x":{"datum":0,"title":null,"axis":{"orient":"top","labels":false,"values":[0,0.5,1,1.5,2,2.5,3,3.5,4,4.5,5,5.5,6],"tickSize":{"condition":{"test":"datum.value%1==0","value":-6},"value":-3}}},"y":{"datum":38,"title":null,"axis":{"orient":"right","labels":false,"values":[31,32,33,34,35,36,37,38,39,40],"tickSize":{"condition":{"test":"datum.value%2==0","value":-6},"value":-3}}}}}
],"resolve":{"axis":{"x":"independent","y":"independent"}}},
{"width":178,"height":186,"data":{"name":"cb"},"transform":[{"filter":"datum.c>3"}],"layer":[
{"mark":"rect","encoding":{"x":{"datum":13,"axis":null,"scale":{"domain":[0,178],"nice":false,"zero":false}},"x2":{"datum":22},"y":{"field":"lo","type":"quantitative","axis":null,"scale":{"domain":[-2.489,1.21],"reverse":true,"nice":false,"zero":false}},"y2":{"field":"hi"},"color":{"field":"c","type":"ordinal","legend":null,"scale":{"domain":[1,2,3,4,5,6,7],"range":["#ffdcb8","#d9b08f","#b2806a","#8e5b4c","#652a26","#3e0000","#000000"]}}}},
{"mark":{"type":"text","font":"Liberation Serif","fontSize":13,"align":"left","color":"#333"},"encoding":{"x":{"datum":28},"y":{"field":"lo","type":"quantitative","axis":null},"text":{"field":"t"}}}
]},
{"width":242.8,"height":186,"layer":[
{"data":{"name":"R"},"transform":[{"filter":"datum.p=='g'"}],"mark":"rect","encoding":{"x":{"field":"x","type":"quantitative","title":null,"scale":{"domain":[-0.5,6],"nice":false,"zero":false},"axis":{"orient":"bottom","values":[0,0.5,1,1.5,2,2.5,3,3.5,4,4.5,5,5.5,6],"labelExpr":"datum.value%1==0?''+datum.value:''","tickSize":{"condition":{"test":"datum.value%1==0","value":-6},"value":-3}}},"x2":{"field":"e"},"y":{"field":"y","type":"quantitative","title":null,"scale":{"domain":[-2.86,7.09],"nice":false,"zero":false},"axis":{"orient":"left","values":[-2,-1,0,1,2,3,4,5,6,7],"labelExpr":"datum.value%2==0?datum.label:''","tickSize":{"condition":{"test":"datum.value%2==0","value":-6},"value":-3}}},"y2":{"field":"f"},"color":{"field":"c","type":"ordinal","legend":null,"scale":{"domain":[1,2,3,4,5,6,7],"range":["#ffdcb8","#d9b08f","#b2806a","#8e5b4c","#652a26","#3e0000","#000000"]}},"order":{"field":"c","type":"ordinal"}}},
{"data":{"name":"hR"},"mark":{"type":"rule","strokeDash":[4,3],"strokeWidth":1.3,"color":"#111"},"encoding":{"y":{"field":"y","type":"quantitative","axis":null}}},
{"data":{"name":"pR"},"mark":{"type":"point","filled":true,"fill":"#fff","stroke":"#000","strokeWidth":2,"size":42,"opacity":1},"encoding":{"x":{"field":"x","type":"quantitative","axis":null},"y":{"field":"y","type":"quantitative","axis":null}}},
{"data":{"name":"vR"},"mark":{"type":"rule","strokeDash":[4,3],"strokeWidth":1.2,"color":"#111"},"encoding":{"x":{"field":"x","type":"quantitative","axis":null}}},
{"data":{"name":"one"},"mark":{"type":"text","text":"EAGB","fontSize":14},"encoding":{"x":{"datum":4.46,"axis":null},"y":{"datum":-1.51,"axis":null}}},
{"data":{"name":"one"},"mark":{"type":"text","text":"log P","font":"Liberation Serif","fontSize":22,"align":"left","baseline":"alphabetic"},"encoding":{"x":{"datum":5.05,"axis":null},"y":{"datum":-5.27,"axis":null}}},
{"data":{"name":"one"},"mark":{"type":"text","text":"b","font":"Liberation Serif","fontSize":12,"align":"left","baseline":"alphabetic"},"encoding":{"x":{"datum":6.25,"axis":null},"y":{"datum":-5.86,"axis":null}}},
{"data":{"name":"one"},"mark":{"type":"text","text":"(d)","font":"Liberation Serif","fontSize":22,"align":"left","baseline":"alphabetic"},"encoding":{"x":{"datum":6.43,"axis":null},"y":{"datum":-5.27,"axis":null}}},
{"mark":{"type":"point","opacity":0},"encoding":{"x":{"datum":0,"title":null,"axis":{"orient":"top","labels":false,"values":[0,0.5,1,1.5,2,2.5,3,3.5,4,4.5,5,5.5,6],"tickSize":{"condition":{"test":"datum.value%1==0","value":-6},"value":-3}}},"y":{"datum":4,"title":null,"axis":{"orient":"right","labels":false,"values":[-2,-1,0,1,2,3,4,5,6,7],"tickSize":{"condition":{"test":"datum.value%2==0","value":-6},"value":-3}}}}}
],"resolve":{"axis":{"x":"independent","y":"independent"}}},
{"width":242.8,"height":186,"layer":[
{"data":{"name":"R"},"mark":"rect","encoding":{"x":{"field":"x","type":"quantitative","title":null,"scale":{"domain":[-0.5,6],"nice":false,"zero":false},"axis":{"orient":"bottom","values":[0,0.5,1,1.5,2,2.5,3,3.5,4,4.5,5,5.5,6],"labelExpr":"datum.value%1==0?''+datum.value:''","tickSize":{"condition":{"test":"datum.value%1==0","value":-6},"value":-3}}},"x2":{"field":"e"},"y":{"field":"y","type":"quantitative","title":null,"scale":{"domain":[-2.86,7.09],"nice":false,"zero":false},"axis":{"orient":"left","labels":false,"values":[-2,-1,0,1,2,3,4,5,6,7],"tickSize":{"condition":{"test":"datum.value%2==0","value":-6},"value":-3}}},"y2":{"field":"f"},"color":{"field":"c","type":"ordinal","legend":null,"scale":{"domain":[1,2,3,4,5,6,7],"range":["#ffdcb8","#d9b08f","#b2806a","#8e5b4c","#652a26","#3e0000","#000000"]}},"order":{"field":"c","type":"ordinal"}}},
{"data":{"name":"hR"},"mark":{"type":"rule","strokeDash":[4,3],"strokeWidth":1.3,"color":"#111"},"encoding":{"y":{"field":"y","type":"quantitative","axis":null}}},
{"data":{"name":"pR"},"mark":{"type":"point","filled":true,"fill":"#fff","stroke":"#000","strokeWidth":2,"size":42,"opacity":1},"encoding":{"x":{"field":"x","type":"quantitative","axis":null},"y":{"field":"y","type":"quantitative","axis":null}}},
{"data":{"name":"vR"},"mark":{"type":"rule","strokeDash":[4,3],"strokeWidth":1.2,"color":"#111"},"encoding":{"x":{"field":"x","type":"quantitative","axis":null}}},
{"data":{"name":"one"},"mark":{"type":"text","text":"FGB + CHeB + EAGB","fontSize":13},"encoding":{"x":{"datum":4.06,"axis":null},"y":{"datum":-1.83,"axis":null}}},
{"mark":{"type":"point","opacity":0},"encoding":{"x":{"datum":0,"title":null,"axis":{"orient":"top","labels":false,"values":[0,0.5,1,1.5,2,2.5,3,3.5,4,4.5,5,5.5,6],"tickSize":{"condition":{"test":"datum.value%1==0","value":-6},"value":-3}}},"y":{"datum":4,"title":null,"axis":{"orient":"right","labels":false,"values":[-2,-1,0,1,2,3,4,5,6,7],"tickSize":{"condition":{"test":"datum.value%2==0","value":-6},"value":-3}}}}}
],"resolve":{"axis":{"x":"independent","y":"independent"}}},
{"width":8,"height":186,"data":{"name":"cb"},"transform":[{"filter":"datum.c>3"}],"mark":"rect","encoding":{"x":{"datum":7,"axis":null,"scale":{"domain":[0,8],"nice":false,"zero":false}},"x2":{"datum":8},"y":{"field":"lo","type":"quantitative","axis":null,"scale":{"domain":[-2.617,1.281],"reverse":true,"nice":false,"zero":false}},"y2":{"field":"hi"},"color":{"field":"c","type":"ordinal","legend":null,"scale":{"domain":[1,2,3,4,5,6,7],"range":["#ffdcb8","#d9b08f","#b2806a","#8e5b4c","#652a26","#3e0000","#000000"]}}}}
]}
